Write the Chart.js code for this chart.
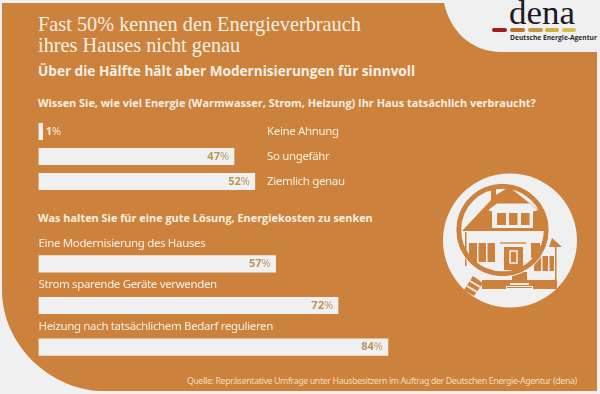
<!DOCTYPE html>
<html lang="de"><head><meta charset="utf-8">
<script src="https://cdn.jsdelivr.net/npm/chart.js@4"></script>
<style>
html,body{margin:0;padding:0;width:600px;height:394px;overflow:hidden;background:#f0f0f0}
#stage{position:relative;width:600px;height:394px}
#stage svg,#stage canvas{position:absolute;left:0}
.t{position:absolute;white-space:nowrap;color:#f8efe2;line-height:1}
</style></head><body>
<div id="stage">
<svg width="600" height="394" viewBox="0 0 600 394" style="top:0">
<path d="M2 3H444C450 30 470 52 502 52H597V391H100C50 389 2 345 2 290Z" fill="#cc823c"/>
<text x="509" y="24" font-family="Liberation Serif" font-size="33" fill="#1b1b25" textLength="66" lengthAdjust="spacingAndGlyphs">dena</text>
<g stroke-width="4" stroke-linecap="round">
<path d="M494 30H505" stroke="#9e1b1e"/><path d="M512 30H523" stroke="#c0722d"/><path d="M530 30H541" stroke="#c89a3c"/><path d="M547 30H557" stroke="#cfae3a"/><path d="M564 30H574" stroke="#d6c04a"/>
</g>
<text x="510" y="40" font-family="Open Sans" font-weight="700" font-size="7.2" fill="#2a2a2a" textLength="87" lengthAdjust="spacingAndGlyphs">Deutsche Energie-Agentur</text>
<circle cx="510" cy="240.5" r="67" fill="#f0f0f0"/>
<g fill="#cc823c">
<path d="M462 231L491 200V189H496V195L509 187L541 212L546 231Z"/>
<path d="M489 210L497 204H530L537 210L533 211H493Z" fill="#f0f0f0" stroke="#f0f0f0" stroke-width="1"/>
<rect x="492" y="210" width="41" height="18" fill="#f0f0f0"/>
<rect x="497" y="213" width="9" height="12"/><rect x="509" y="213" width="8.500" height="12"/><rect x="521" y="213" width="8.500" height="12"/>
<rect x="469" y="243" width="26" height="19"/>
<rect x="477" y="243" width="1.500" height="19" fill="#f0f0f0"/><rect x="486" y="243" width="1.500" height="19" fill="#f0f0f0"/>
<rect x="500" y="242" width="26" height="2" opacity=".65"/>
<rect x="504" y="247" width="19" height="23"/>
<rect x="510" y="251" width="7" height="12" fill="none" stroke="#f0f0f0" stroke-width="1.500"/>
<rect x="531" y="243" width="9" height="15"/>
<rect x="534" y="256" width="20" height="15"/>
<rect x="541" y="256" width="1.500" height="15" fill="#f0f0f0"/><rect x="548" y="256" width="1.500" height="15" fill="#f0f0f0"/>
<path d="M552 238L562 247H549Z"/>
<rect x="555" y="247" width="1.500" height="33"/>
<rect x="465" y="232" width="1.500" height="34"/>
<path d="M482 280H512V272H527V280H557V289H482Z"/>
<path d="M506 289V286H510V283H529V286H533V289Z" fill="#f0f0f0"/>
<rect x="510" y="285" width="19" height="1"/><rect x="507" y="287" width="25" height="1"/>
<path d="M473 276L483 283L474 296L464 290Z"/>
<path d="M470 281L480 287M467 286L477 292" stroke="#f0f0f0" stroke-width="1.800"/>
</g>
<circle cx="502.500" cy="230" r="43.800" fill="none" stroke="#cc823c" stroke-width="5"/>
<circle cx="502.500" cy="230" r="46.800" fill="none" stroke="#f0f0f0" stroke-width="1"/>
</svg>

<div class="t" style="left:38px;top:14px;font:20.300px/21px 'Liberation Serif'">Fast 50% kennen den Energieverbrauch<br>ihres Hauses nicht genau</div>
<div class="t" style="left:38px;top:63px;font:700 13.600px/16px 'Open Sans'" id="sub">Über die Hälfte hält aber Modernisierungen für sinnvoll</div>
<div class="t" style="left:38px;top:96px;font:700 10.900px/14px 'Open Sans'" id="q1">Wissen Sie, wie viel Energie (Warmwasser, Strom, Heizung) Ihr Haus tatsächlich verbraucht?</div>
<div class="t" style="left:38px;top:211px;font:700 10.900px/14px 'Open Sans'" id="q2">Was halten Sie für eine gute Lösung, Energiekosten zu senken</div>
<div class="t" style="left:187px;top:375px;font:8.800px/12px 'Noto Sans';letter-spacing:-.37px;color:#f3dcbc" id="src">Quelle: Repräsentative Umfrage unter Hausbesitzern im Auftrag der Deutschen Energie-Agentur (dena)</div>

<canvas id="c1" width="600" height="75" style="top:119px"></canvas>
<canvas id="c2" width="600" height="137" style="top:231px"></canvas>
</div>
<script>
const knowledgeLabels = ["Keine Ahnung", "So ungefähr", "Ziemlich genau"];
const knowledgeValues = [1, 47, 52];
const solutionLabels = ["Eine Modernisierung des Hauses", "Strom sparende Geräte verwenden", "Heizung nach tatsächlichem Bedarf regulieren"];
const solutionValues = [57, 72, 84];

const BAR = "#f0f0f0", VALUE = "#b8945f", LABEL = "#f8efe2", LABEL_FONT = "11.500px 'Noto Sans'";

const annotate = {
  id: "annotate",
  afterDatasetsDraw(chart, args, opts) {
    const ctx = chart.ctx, meta = chart.getDatasetMeta(0), vals = chart.data.datasets[0].data;
    ctx.save();
    ctx.textBaseline = "middle";
    meta.data.forEach((bar, i) => {
      const num = String(vals[i]);
      ctx.letterSpacing = "0px";
      ctx.font = "700 11px 'Open Sans'";
      const nw = ctx.measureText(num).width;
      ctx.font = "400 11px 'Open Sans'";
      const pw = ctx.measureText("%").width;
      const outside = vals[i] < 5;
      const x0 = outside ? bar.x + 3 : bar.x - 5 - nw - pw;
      ctx.textAlign = "left";
      ctx.fillStyle = outside ? LABEL : VALUE;
      ctx.font = "700 11px 'Open Sans'";
      ctx.fillText(num, x0, bar.y);
      ctx.font = "400 11px 'Open Sans'";
      ctx.fillText("%", x0 + nw, bar.y);
      ctx.fillStyle = LABEL;
      ctx.font = LABEL_FONT;
      ctx.letterSpacing = "-0.35px";
      const lab = chart.data.labels[i];
      if (opts.above) ctx.fillText(lab, chart.chartArea.left, bar.y - 20.500);
      else ctx.fillText(lab, opts.labelX, bar.y);
    });
    ctx.restore();
  }
};

function draw(id, labels, values, annotateOpts, top) {
  return new Chart(document.getElementById(id), {
    type: "bar",
    data: { labels, datasets: [{ data: values, backgroundColor: BAR, borderWidth: 0, barThickness: 16.500 }] },
    options: {
      indexAxis: "y",
      responsive: false,
      animation: false,
      layout: { padding: { left: 38.500, right: 145.500, top, bottom: 0 } },
      plugins: { legend: { display: false }, tooltip: { enabled: false }, annotate: annotateOpts },
      scales: {
        x: { display: false, min: 0, max: 100 },
        y: { display: false }
      }
    },
    plugins: [annotate]
  });
}
draw("c1", knowledgeLabels, knowledgeValues, { above: false, labelX: 267 }, 0);
draw("c2", solutionLabels, solutionValues, { above: true }, 12);
</script>
</body></html>
